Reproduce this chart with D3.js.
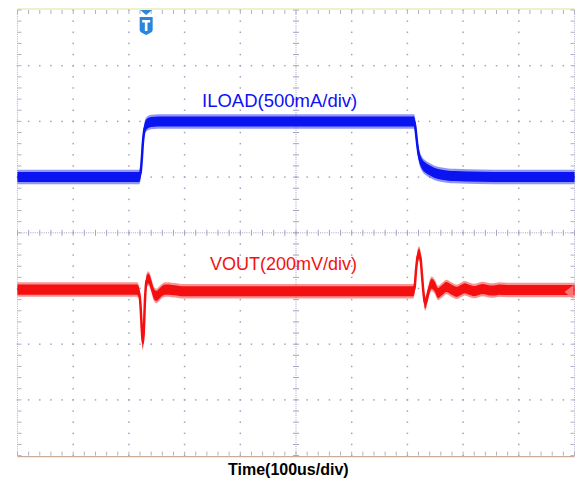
<!DOCTYPE html>
<html>
<head>
<meta charset="utf-8">
<script src="https://cdn.jsdelivr.net/npm/d3@7/dist/d3.min.js"></script>
<style>
  html, body { margin: 0; padding: 0; background: #ffffff; }
  svg { display: block; }
</style>
</head>
<body>
<svg id="scope" width="575" height="478"></svg>
<script>
// ---- Acquisition settings ----
const timePerDiv = 100;          // us / div
const iloadPerDiv = 500;         // mA / div
const voutPerDiv = 200;          // mV / div
const divisionsX = 10;
const divisionsY = 8;
const triggerTime = 231;         // us from left edge of the record

// ---- Channel 1: load current (mA, relative to the low load level) ----
const iloadTime  = [0, 218, 221, 223, 225, 227, 229, 233, 240, 252, 712, 714, 716, 718, 720, 722.5, 726, 731, 738, 748, 762, 785, 830, 880, 1000];
const iloadValue = [0,   0,  40, 150, 300, 400, 450, 480, 495, 500, 500, 460, 370, 280, 210, 160,   120,  90,  65,  40,  22,  10,   3,   0,    0];
const iloadNoise = [45, 65];     // peak half-width of the noise band: core, soft edge (mA)

// ---- Channel 2: output voltage deviation (mV) ----
const voutTime  = [0, 214.5, 218, 220.8, 223.2, 224.9, 226.6, 228.9, 231.6, 234.8, 237.9, 241.5, 245, 249.6, 254, 259.4, 266.6, 277, 300, 710,
                   712.8, 715.5, 718.2, 720.9, 723.6, 726.2, 728.9, 731.6, 733.5, 735.2, 738.8, 743.3, 749, 755, 762, 770, 778, 788, 796, 803, 812, 820, 828, 836, 845, 855, 865, 880, 1000];
const voutValue = [-4, -4, -13, -59, -149, -197, -160, -41, 27, 36, 27, 2, -20, -27, -20, -9, -4, -5, -10, -10,
                   2, 66, 113, 126, 109, 48, -16, -54, -48, -34, -5, 17, 7, -16, -6, 5, -3, -12, -5, 1, -5, -9, -5, -2, -6, -7, -4, -5, -5];
const voutNoise = [18, 26];      // mV

// ---- Labels ----
const iloadLabel = "ILOAD(500mA/div)";
const voutLabel  = "VOUT(200mV/div)";
const timeLabel  = "Time(100us/div)";

// ---- Layout ----
const plot = { left: 17.5, right: 574.5, top: 10, bottom: 455.6 };
const iloadPosition = 5;   // channel ground position, divisions from bottom
const voutPosition = 3;

const svg = d3.select("#scope");

const x = d3.scaleLinear().domain([0, divisionsX * timePerDiv]).range([plot.left, plot.right]);
const xDiv = d3.scaleLinear().domain([0, divisionsX]).range([plot.left, plot.right]);
const yDiv = d3.scaleLinear().domain([0, divisionsY]).range([plot.bottom, plot.top]);
const yI = v => yDiv(iloadPosition + v / iloadPerDiv);
const yV = v => yDiv(voutPosition + v / voutPerDiv);

// ---- Graticule ----
const grid = svg.append("g").attr("class", "graticule");
const dotColor = "#a2a2c6";
const minor = 0.2, fine = 0.04;

// dotted division lines
for (let i = 1; i < divisionsX; i++) {
  if (i === divisionsX / 2) continue;
  grid.selectAll(null).data(d3.range(0, divisionsY + 1e-6, minor)).join("rect")
    .attr("x", xDiv(i) - 0.75).attr("y", d => yDiv(d) - 0.75)
    .attr("width", 1.5).attr("height", 1.5).attr("fill", dotColor);
}
for (let j = 1; j < divisionsY; j++) {
  if (j === divisionsY / 2) continue;
  grid.selectAll(null).data(d3.range(0, divisionsX + 1e-6, minor)).join("rect")
    .attr("x", d => xDiv(d) - 0.75).attr("y", yDiv(j) - 0.75)
    .attr("width", 1.5).attr("height", 1.5).attr("fill", dotColor);
}

// centre axes: fine dots plus minor ticks
const cx = xDiv(divisionsX / 2), cy = yDiv(divisionsY / 2);
grid.selectAll(null).data(d3.range(0, divisionsX + 1e-6, fine)).join("rect")
  .attr("x", d => xDiv(d) - 0.5).attr("y", cy - 0.5).attr("width", 1).attr("height", 1).attr("fill", dotColor);
grid.selectAll(null).data(d3.range(0, divisionsY + 1e-6, fine)).join("rect")
  .attr("x", cx - 0.5).attr("y", d => yDiv(d) - 0.5).attr("width", 1).attr("height", 1).attr("fill", dotColor);
grid.selectAll(null).data(d3.range(0, divisionsX + 1e-6, minor)).join("line")
  .attr("x1", d => xDiv(d)).attr("x2", d => xDiv(d)).attr("y1", cy - 3).attr("y2", cy + 3)
  .attr("stroke", dotColor).attr("stroke-width", 1);
grid.selectAll(null).data(d3.range(0, divisionsY + 1e-6, minor)).join("line")
  .attr("y1", d => yDiv(d)).attr("y2", d => yDiv(d)).attr("x1", cx - 3).attr("x2", cx + 3)
  .attr("stroke", dotColor).attr("stroke-width", 1);

// frame: dotted sides, coloured top/bottom, inward ticks
[plot.left, plot.right].forEach(px => {
  grid.selectAll(null).data(d3.range(0, divisionsY + 1e-6, fine)).join("rect")
    .attr("x", px - 0.5).attr("y", d => yDiv(d) - 0.5).attr("width", 1).attr("height", 1).attr("fill", "#b4b4cc");
});
grid.append("line").attr("x1", plot.left).attr("x2", plot.right).attr("y1", plot.top - 1).attr("y2", plot.top - 1)
  .attr("stroke", "#e2e29a").attr("stroke-width", 1.2);
grid.append("line").attr("x1", plot.left).attr("x2", plot.right).attr("y1", plot.bottom + 1).attr("y2", plot.bottom + 1)
  .attr("stroke", "#c9ab98").attr("stroke-width", 1.2);
grid.selectAll(null).data(d3.range(0, divisionsX + 1e-6, minor)).join("line")
  .attr("x1", d => xDiv(d)).attr("x2", d => xDiv(d)).attr("y1", plot.top).attr("y2", plot.top + 4)
  .attr("stroke", "#b0b0c8").attr("stroke-width", 1);
grid.selectAll(null).data(d3.range(0, divisionsX + 1e-6, minor)).join("line")
  .attr("x1", d => xDiv(d)).attr("x2", d => xDiv(d)).attr("y1", plot.bottom).attr("y2", plot.bottom - 4)
  .attr("stroke", "#b0b0c8").attr("stroke-width", 1);
grid.selectAll(null).data(d3.range(0, divisionsY + 1e-6, minor)).join("line")
  .attr("y1", d => yDiv(d)).attr("y2", d => yDiv(d)).attr("x1", plot.left).attr("x2", plot.left + 4)
  .attr("stroke", "#b0b0c8").attr("stroke-width", 1);
grid.selectAll(null).data(d3.range(0, divisionsY + 1e-6, minor)).join("line")
  .attr("y1", d => yDiv(d)).attr("y2", d => yDiv(d)).attr("x1", plot.right).attr("x2", plot.right - 4)
  .attr("stroke", "#b0b0c8").attr("stroke-width", 1);

// ---- Traces ----
function drawTrace(times, values, noise, yMap, color) {
  const pts = times.map((t, i) => ({ t, v: values[i] }));
  const g = svg.append("g");
  const curve = d3.curveMonotoneX;
  const band = h => d3.area().curve(curve).x(d => x(d.t)).y0(d => yMap(d.v - h)).y1(d => yMap(d.v + h));
  g.append("path").datum(pts).attr("d", band(noise[1])).attr("fill", color).attr("opacity", 0.45);
  g.append("path").datum(pts).attr("d", band(noise[0])).attr("fill", color);
  g.append("path").datum(pts)
    .attr("d", d3.line().curve(curve).x(d => x(d.t)).y(d => yMap(d.v)))
    .attr("fill", "none").attr("stroke", color).attr("stroke-width", 2.5).attr("stroke-linejoin", "round");
}
drawTrace(iloadTime, iloadValue, iloadNoise, yI, "#0a14f0");
drawTrace(voutTime, voutValue, voutNoise, yV, "#f41010");

// ---- Channel labels ----
svg.append("text").text(iloadLabel)
  .attr("x", 202).attr("y", yI(iloadValue[9]) - 14.5)
  .attr("font-family", "Liberation Sans, Arial, sans-serif").attr("font-size", 18.5).attr("fill", "#1010f4");
svg.append("text").text(voutLabel)
  .attr("x", 210).attr("y", yV(0) - 18.5)
  .attr("font-family", "Liberation Sans, Arial, sans-serif").attr("font-size", 18).attr("fill", "#f41010");
svg.append("text").text(timeLabel)
  .attr("x", 228).attr("y", 475)
  .attr("font-family", "Liberation Sans, Arial, sans-serif").attr("font-size", 16).attr("font-weight", "bold").attr("fill", "#000");

// ---- Trigger position marker ----
const tx = x(triggerTime);
const trig = svg.append("g").attr("fill", "#2a86dc");
trig.append("path").attr("d", `M${tx - 6},${plot.top} L${tx + 6},${plot.top} L${tx},${plot.top + 5} Z`);
trig.append("path").attr("d",
  `M${tx - 6.5},${plot.top + 7} L${tx + 6.5},${plot.top + 7} L${tx + 6.5},${plot.top + 20} Q${tx + 6.5},${plot.top + 22} ${tx + 4},${plot.top + 23}
   L${tx},${plot.top + 25} L${tx - 4},${plot.top + 23} Q${tx - 6.5},${plot.top + 22} ${tx - 6.5},${plot.top + 20} Z`);
trig.append("path").attr("d",
  `M${tx - 4},${plot.top + 10} L${tx + 4},${plot.top + 10} L${tx + 4},${plot.top + 12.5} L${tx + 1.3},${plot.top + 12.5}
   L${tx + 1.3},${plot.top + 21} L${tx - 1.3},${plot.top + 21} L${tx - 1.3},${plot.top + 12.5} L${tx - 4},${plot.top + 12.5} Z`)
  .attr("fill", "#ffffff");

// ---- Channel 2 reference marker at right edge ----
const ry = yV(voutValue[voutValue.length - 1]);
svg.append("path")
  .attr("d", `M${plot.right - 10},${ry + 2} L${plot.right - 1},${ry - 5} L${plot.right - 1},${ry + 9} Z`)
  .attr("fill", "#ff8080").attr("opacity", 0.9);
</script>
</body>
</html>
